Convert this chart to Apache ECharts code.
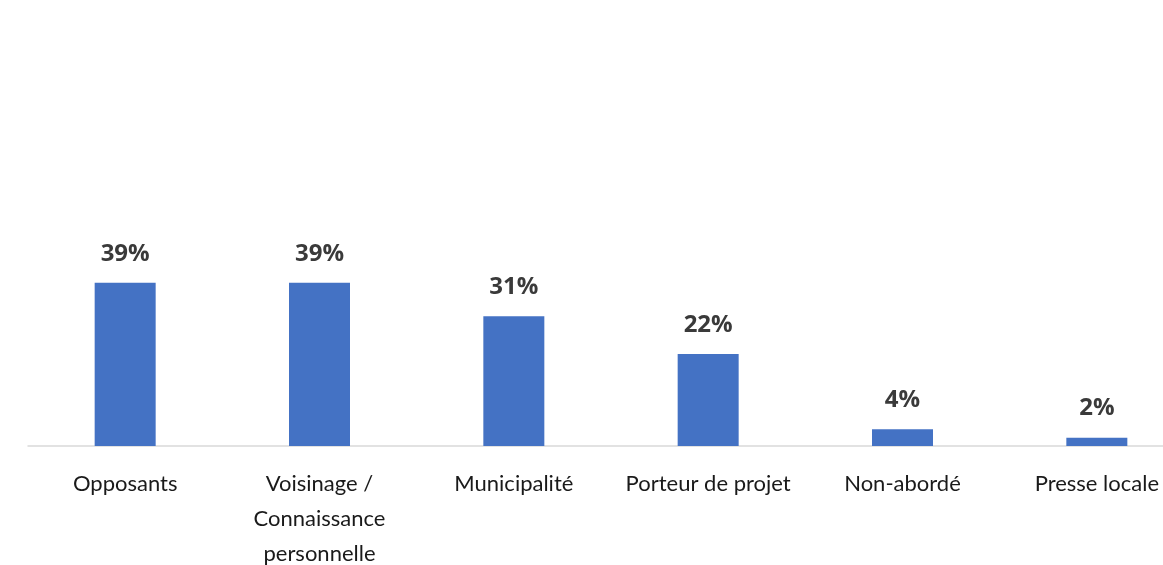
<!DOCTYPE html>
<html><head><meta charset="utf-8">
<script src="https://cdn.jsdelivr.net/npm/echarts@6/dist/echarts.min.js"></script>
<style>html,body{margin:0;padding:0;background:#fff}#c{width:1163px;height:565px}</style>
</head><body><div id="c"></div>
<script>
const categories = ["Opposants", "Voisinage /\nConnaissance\npersonnelle", "Municipalité", "Porteur de projet", "Non-abordé", "Presse locale"];
const values = [39, 39, 31, 22, 4, 2];
const chart = echarts.init(document.getElementById('c'));
chart.setOption({
  animation: false,
  grid: {left: 28, width: 1166, top: 195, height: 251, outerBoundsMode: 'none', containLabel: false},
  xAxis: {
    type: 'category', data: categories,
    axisLine: {lineStyle: {color: '#d9d9d9', width: 1.5}},
    axisTick: {show: false},
    axisLabel: {interval: 0, color: '#1a1a1a', fontFamily: 'Lato', fontSize: 22, letterSpacing: 1, lineHeight: 35, margin: 20}
  },
  yAxis: {type: 'value', min: 0, max: 60, show: false, splitLine: {show: false}},
  series: [{
    type: 'bar', data: values, barWidth: 61,
    itemStyle: {color: '#4472C4'},
    label: {show: true, position: 'top', distance: 17, formatter: '{c}%', color: '#3a3a3a', fontFamily: 'Open Sans', fontWeight: 'bold', fontSize: 24}
  }]
});
</script></body></html>
